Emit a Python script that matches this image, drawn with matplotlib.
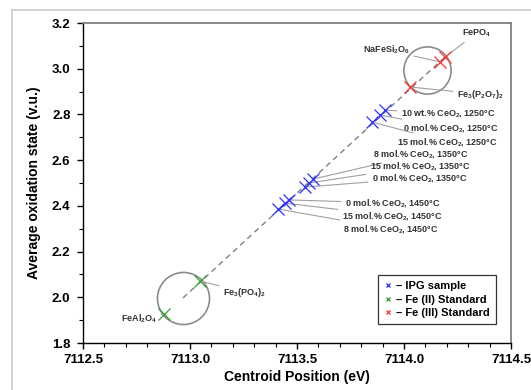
import matplotlib
matplotlib.use('Agg')
import matplotlib.pyplot as plt
from matplotlib.lines import Line2D
from matplotlib.ticker import MultipleLocator

plt.rcParams['font.family'] = ['Liberation Sans', 'DejaVu Sans']
plt.rcParams['font.weight'] = 'bold'
plt.rcParams['mathtext.default'] = 'regular'

# ---- data ----
# IPG samples (blue)
ipg_x = [7113.911, 7113.888, 7113.850,
         7113.575, 7113.556, 7113.537,
         7113.463, 7113.444, 7113.411]
ipg_y = [2.819, 2.797, 2.767,
         2.517, 2.500, 2.482,
         2.426, 2.412, 2.386]
ipg_labels = ['10 wt.% CeO$_2$, 1250°C', '0 mol.% CeO$_2$, 1250°C', '15 mol.% CeO$_2$, 1250°C',
              '8 mol.% CeO$_2$, 1350°C', '15 mol.% CeO$_2$, 1350°C', '0 mol.% CeO$_2$, 1350°C',
              '0 mol.% CeO$_2$, 1450°C', '15 mol.% CeO$_2$, 1450°C', '8 mol.% CeO$_2$, 1450°C']
ipg_text_x = [7113.986, 7113.995, 7113.967,
              7113.855, 7113.841, 7113.850,
              7113.724, 7113.710, 7113.715]
ipg_text_y = [2.802, 2.740, 2.679,
              2.627, 2.574, 2.522,
              2.412, 2.356, 2.299]

# Fe(II) standards (green)
fe2_x = [7112.879, 7113.047]
fe2_y = [1.927, 2.071]
fe2_labels = ['FeAl$_2$O$_4$', 'Fe$_3$(PO$_4$)$_2$']
fe2_text_x = [7112.846, 7113.154]
fe2_text_y = [1.905, 2.023]
fe2_ha = ['right', 'left']

# Fe(III) standards (red)
fe3_x = [7114.190, 7114.168, 7114.028]
fe3_y = [3.050, 3.030, 2.920]
fe3_labels = ['FePO$_4$', 'NaFeSi$_2$O$_6$', 'Fe$_3$(P$_2$O$_7$)$_2$']
fe3_text_x = [7114.271, 7114.028, 7114.248]
fe3_text_y = [3.156, 3.082, 2.889]
fe3_ha = ['left', 'right', 'left']

# trend line and grouping circles
fit_x = [7112.967, 7114.190]
fit_y = [1.997, 3.050]
circle_x = [7112.967, 7114.107]
circle_y = [1.997, 2.994]
circle_d = [37.5, 34.0]

blue = '#3030ff'
green = '#30a030'
red = '#ff3030'
lead = '#a0a0a0'

fig = plt.figure(figsize=(5.31, 3.9), dpi=100)
ax = fig.add_axes([0.1563, 0.1205, 0.806, 0.8205])

# light frame of the original picture
fig.add_artist(Line2D([0.0226, 1.0], [0.974, 0.974], color='#cccccc', lw=1.2, transform=fig.transFigure))
fig.add_artist(Line2D([0.0226, 0.0226], [0.0, 0.974], color='#cccccc', lw=1.2, transform=fig.transFigure))

ax.plot(fit_x, fit_y, color='#808080', lw=1.0, ls=(0, (4, 3)), zorder=1)
for cx, cy, d in zip(circle_x, circle_y, circle_d):
    ax.plot([cx], [cy], marker='o', ms=d, mfc='none', mec='#8c8c8c', mew=1.2, zorder=1)

ax.plot(ipg_x, ipg_y, ls='none', marker='x', ms=9, mew=0.9, color=blue, zorder=3)
ax.plot(fe2_x, fe2_y, ls='none', marker='x', ms=9, mew=0.9, color=green, zorder=3)
ax.plot(fe3_x, fe3_y, ls='none', marker='x', ms=9, mew=0.9, color=red, zorder=3)

arrow = dict(arrowstyle='-', color=lead, lw=0.8, shrinkA=1, shrinkB=0)
for x, y, lab, tx, ty in zip(ipg_x, ipg_y, ipg_labels, ipg_text_x, ipg_text_y):
    ax.annotate(lab, xy=(x, y), xytext=(tx, ty), ha='left', va='center',
                fontsize=6.5, color='#333333', arrowprops=arrow, zorder=2)
for x, y, lab, tx, ty, ha in zip(fe2_x, fe2_y, fe2_labels, fe2_text_x, fe2_text_y, fe2_ha):
    ax.annotate(lab, xy=(x, y), xytext=(tx, ty), ha=ha, va='center',
                fontsize=6.5, color='#333333', arrowprops=arrow, zorder=2)
for x, y, lab, tx, ty, ha in zip(fe3_x, fe3_y, fe3_labels, fe3_text_x, fe3_text_y, fe3_ha):
    ax.annotate(lab, xy=(x, y), xytext=(tx, ty), ha=ha, va='center',
                fontsize=6.5, color='#333333', arrowprops=arrow, zorder=2)

ax.set_xlim(7112.5, 7114.5)
ax.set_ylim(1.8, 3.2)
ax.xaxis.set_major_locator(MultipleLocator(0.5))
ax.xaxis.set_minor_locator(MultipleLocator(0.1))
ax.yaxis.set_major_locator(MultipleLocator(0.2))
ax.yaxis.set_minor_locator(MultipleLocator(0.1))
ax.xaxis.set_major_formatter(matplotlib.ticker.FormatStrFormatter('%.1f'))
ax.yaxis.set_major_formatter(matplotlib.ticker.FormatStrFormatter('%.1f'))
ax.tick_params(which='major', direction='out', length=4, width=1, labelsize=9.5, pad=4)
ax.tick_params(which='minor', direction='out', length=3, width=0.8)
ax.tick_params(axis='y', which='major', pad=5)
for s in ['left', 'bottom']:
    ax.spines[s].set_color('black')
    ax.spines[s].set_linewidth(1.0)
for s in ['top', 'right']:
    ax.spines[s].set_color('#808080')
    ax.spines[s].set_linewidth(1.3)

ax.set_xlabel('Centroid Position (eV)', fontsize=10, fontweight='bold')
ax.set_ylabel('Average oxidation state (v.u.)', fontsize=10, fontweight='bold')
ax.xaxis.set_label_coords(0.5, -0.085)
ax.yaxis.set_label_coords(-0.098, 0.5)

handles = [Line2D([], [], ls='none', marker='x', ms=3.5, mew=0.9, color=c) for c in (blue, green, red)]
leg = ax.legend(handles, ['– IPG sample', '– Fe (II) Standard', '– Fe (III) Standard'],
                loc='lower right', bbox_to_anchor=(0.965, 0.059), borderaxespad=0,
                fancybox=False, edgecolor='#333333', framealpha=1, fontsize=8,
                handlelength=0.8, handletextpad=0.3, labelspacing=0.3, borderpad=0.55)
leg.get_frame().set_linewidth(0.9)

fig.savefig('out.png', dpi=100)
